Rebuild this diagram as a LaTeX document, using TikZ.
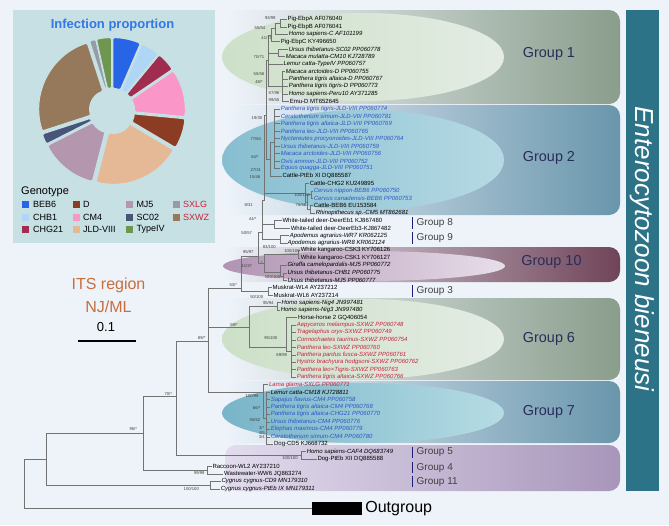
\documentclass[tikz,border=0pt]{standalone}
\usepackage{fontspec}
\setmainfont{Liberation Sans}
\usetikzlibrary{positioning}
\definecolor{bgc}{RGB}{238,243,250}
\definecolor{panelc}{RGB}{199,224,228}
\definecolor{treegray}{RGB}{115,115,115}
\definecolor{jldblue}{RGB}{45,85,200}
\definecolor{sxred}{RGB}{200,35,60}
\definecolor{grpnavy}{RGB}{40,45,90}
\definecolor{barnavy}{RGB}{30,30,120}
\definecolor{titlec}{RGB}{45,115,135}
\definecolor{itsc}{RGB}{200,110,60}
\definecolor{inftc}{RGB}{50,120,230}
\definecolor{greenband}{RGB}{138,158,140}
\definecolor{blueband}{RGB}{105,150,172}
\definecolor{plumband}{RGB}{112,68,88}
\definecolor{lilacband}{RGB}{168,150,186}
\definecolor{beb6}{RGB}{40,100,230}
\definecolor{chb1}{RGB}{175,215,245}
\definecolor{chg21}{RGB}{160,45,80}
\definecolor{cmfour}{RGB}{250,150,200}
\definecolor{dgen}{RGB}{140,60,35}
\definecolor{jld}{RGB}{230,185,150}
\definecolor{mj5}{RGB}{180,150,175}
\definecolor{sc02}{RGB}{70,85,120}
\definecolor{sxwz}{RGB}{150,120,90}
\definecolor{sxlg}{RGB}{150,155,165}
\definecolor{typeiv}{RGB}{110,150,80}
\begin{document}
\begin{tikzpicture}[x=1pt, y=-1pt,
  branch/.style={draw=treegray, line width=0.6pt},
  leaf/.style={anchor=west, inner sep=0.6pt, font=\fontsize{6}{7}\selectfont},
  leafi/.style={leaf, font=\fontsize{6}{7}\selectfont\itshape},
  leafb/.style={leafi, text=jldblue},
  leafr/.style={leafi, text=sxred},
  boot/.style={inner sep=0pt, font=\fontsize{4.2}{5}\selectfont, text=black!75},
  biggroup/.style={text=grpnavy, font=\fontsize{14.4}{16}\selectfont},
  smallgroup/.style={anchor=west, inner sep=1pt, text=black!75, font=\fontsize{10}{12}\selectfont},
  gbar/.style={draw=barnavy, line width=1.6pt},
  slice/.style={draw=panelc, line width=1.2pt, rounded corners=1.5pt},
  sq/.style={minimum size=7pt, inner sep=0pt},
  lgt/.style={anchor=west, inner sep=1pt, font=\fontsize{9}{10}\selectfont}]
\useasboundingbox (0,0) rectangle (669,525);
\fill[bgc] (0,0) rectangle (669,525);

% group bands
\shade[left color=bgc, right color=greenband, rounded corners=11pt] (225,10) rectangle (620,104);
\shade[left color=bgc, right color=blueband, rounded corners=11pt] (225,105) rectangle (620,215);
\shade[left color=bgc, right color=plumband, rounded corners=11pt] (225,247) rectangle (620,282);
\shade[left color=bgc, right color=greenband, rounded corners=11pt] (225,298) rectangle (620,380);
\shade[left color=bgc, right color=blueband, rounded corners=11pt] (225,381) rectangle (620,443);
\shade[left color={rgb,255:red,226;green,220;blue,238}, right color=lilacband, rounded corners=11pt] (225,445) rectangle (620,491);
\shade[left color={rgb,255:red,205;green,224;blue,200}, right color={rgb,255:red,228;green,236;blue,228}] (363,57) ellipse [x radius=141, y radius=44];
\shade[left color={rgb,255:red,135;green,190;blue,208}, right color={rgb,255:red,182;green,218;blue,228}] (363,160) ellipse [x radius=141, y radius=50];
\shade[left color={rgb,255:red,176;green,148;blue,178}, right color={rgb,255:red,232;green,222;blue,234}] (364,266) ellipse [x radius=141, y radius=15];
\shade[left color={rgb,255:red,205;green,224;blue,200}, right color={rgb,255:red,228;green,236;blue,228}] (363,339) ellipse [x radius=141, y radius=40];
\shade[left color={rgb,255:red,120;green,180;blue,200}, right color={rgb,255:red,182;green,220;blue,228}] (363,413) ellipse [x radius=141, y radius=30];

% species title
\fill[titlec] (626,10) rectangle (659,491);
\node[rotate=-90, text=white, font=\fontsize{26}{30}\selectfont\itshape] (title) at (642.5,249) {Enterocytozoon bieneusi};

\node[biggroup] (grp1) at (549,54) {Group 1};
\node[biggroup] (grp2) at (549,158) {Group 2};
\node[biggroup] (grp10) at (551.5,262) {Group 10};
\node[biggroup] (grp6) at (549,339) {Group 6};
\node[biggroup] (grp7) at (549,411.7) {Group 7};
\node[smallgroup] (grp8) at (415.5,223) {Group 8};
\node[smallgroup] (grp9) at (415.5,238) {Group 9};
\node[smallgroup] (grp3) at (415.5,291) {Group 3};
\node[smallgroup] (grp5) at (415.5,452.3) {Group 5};
\node[smallgroup] (grp4) at (415.5,467.7) {Group 4};
\node[smallgroup] (grp11) at (415.5,481.7) {Group 11};
\draw[gbar] ([xshift=-3pt]grp8.north west) -- ([xshift=-3pt]grp8.south west);
\draw[gbar] ([xshift=-3pt]grp9.north west) -- ([xshift=-3pt]grp9.south west);
\draw[gbar] ([xshift=-3pt]grp3.north west) -- ([xshift=-3pt]grp3.south west);
\draw[gbar] ([xshift=-3pt]grp5.north west) -- ([xshift=-3pt]grp5.south west);
\draw[gbar] ([xshift=-3pt]grp4.north west) -- ([xshift=-3pt]grp4.south west);
\draw[gbar] ([xshift=-3pt]grp11.north west) -- ([xshift=-3pt]grp11.south west);

% pie panel
\fill[panelc] (13,10) rectangle (215,243);
\node[text=inftc, font=\fontsize{13}{15}\selectfont\bfseries] (inftitle) at (112.5,25) {Infection proportion};
\begin{scope}[shift={(112,111)}]
  \fill[beb6, slice, shift={(-78.3:3.5)}] (-90:19) -- (-90:70) arc[start angle=-90, end angle=-66.6, radius=70] -- (-66.6:19) arc[start angle=-66.6, end angle=-90, radius=19] -- cycle;
  \fill[chb1, slice, shift={(-58.5:3.5)}] (-66.6:19) -- (-66.6:70) arc[start angle=-66.6, end angle=-50.4, radius=70] -- (-50.4:19) arc[start angle=-50.4, end angle=-66.6, radius=19] -- cycle;
  \fill[chg21, slice, shift={(-42.3:3.5)}] (-50.4:19) -- (-50.4:70) arc[start angle=-50.4, end angle=-34.2, radius=70] -- (-34.2:19) arc[start angle=-34.2, end angle=-50.4, radius=19] -- cycle;
  \fill[cmfour, slice, shift={(-14.4:3.5)}] (-34.2:19) -- (-34.2:70) arc[start angle=-34.2, end angle=5.4, radius=70] -- (5.4:19) arc[start angle=5.4, end angle=-34.2, radius=19] -- cycle;
  \fill[dgen, slice, shift={(18:3.5)}] (5.4:19) -- (5.4:70) arc[start angle=5.4, end angle=30.6, radius=70] -- (30.6:19) arc[start angle=30.6, end angle=5.4, radius=19] -- cycle;
  \fill[jld, slice, shift={(67.5:3.5)}] (30.6:19) -- (30.6:70) arc[start angle=30.6, end angle=104.4, radius=70] -- (104.4:19) arc[start angle=104.4, end angle=30.6, radius=19] -- cycle;
  \fill[mj5, slice, shift={(128.7:3.5)}] (104.4:19) -- (104.4:70) arc[start angle=104.4, end angle=153, radius=70] -- (153:19) arc[start angle=153, end angle=104.4, radius=19] -- cycle;
  \fill[sc02, slice, shift={(157.5:3.5)}] (153:19) -- (153:70) arc[start angle=153, end angle=162, radius=70] -- (162:19) arc[start angle=162, end angle=153, radius=19] -- cycle;
  \fill[sxwz, slice, shift={(207:3.5)}] (162:19) -- (162:70) arc[start angle=162, end angle=252, radius=70] -- (252:19) arc[start angle=252, end angle=162, radius=19] -- cycle;
  \fill[sxlg, slice, shift={(254.7:3.5)}] (252:19) -- (252:70) arc[start angle=252, end angle=257.4, radius=70] -- (257.4:19) arc[start angle=257.4, end angle=252, radius=19] -- cycle;
  \fill[typeiv, slice, shift={(263.7:3.5)}] (257.4:19) -- (257.4:70) arc[start angle=257.4, end angle=270, radius=70] -- (270:19) arc[start angle=270, end angle=257.4, radius=19] -- cycle;
\end{scope}
\node[anchor=west, inner sep=1pt, font=\fontsize{11}{12}\selectfont] (gtype) at (20,191.5) {Genotype};
\node[sq, fill=beb6] (kbeb6) at (25,204) {};
\node[lgt] (tbeb6) at (32,204) {BEB6};
\node[sq, fill=chb1] (kchb1) at (25,217) {};
\node[lgt] (tchb1) at (32,217) {CHB1};
\node[sq, fill=chg21] (kchg21) at (25,229.5) {};
\node[lgt] (tchg21) at (32,229.5) {CHG21};
\node[sq, fill=dgen] (kd) at (76,204) {};
\node[lgt] (td) at (82,204) {D};
\node[sq, fill=cmfour] (kcm4) at (76,217) {};
\node[lgt] (tcm4) at (82,217) {CM4};
\node[sq, fill=jld] (kjld) at (76,229.5) {};
\node[lgt] (tjld) at (82,229.5) {JLD-VIII};
\node[sq, fill=mj5] (kmj5) at (129.3,204) {};
\node[lgt] (tmj5) at (135.3,204) {MJ5};
\node[sq, fill=sc02] (ksc02) at (129.3,217) {};
\node[lgt] (tsc02) at (135.3,217) {SC02};
\node[sq, fill=typeiv] (ktiv) at (129.3,229.5) {};
\node[lgt] (ttiv) at (135.3,229.5) {TypeIV};
\node[sq, fill=sxlg] (ksxlg) at (176.7,204) {};
\node[lgt, text=sxred] (tsxlg) at (182,204) {SXLG};
\node[sq, fill=sxwz] (ksxwz) at (176.7,217) {};
\node[lgt, text=sxred] (tsxwz) at (182,217) {SXWZ};

% scale
\node[text=itsc, font=\fontsize{16}{18}\selectfont] (its) at (108.5,285) {ITS region};
\node[text=itsc, font=\fontsize{16}{18}\selectfont] (njml) at (108.5,307) {NJ/ML};
\node[font=\fontsize{13}{15}\selectfont] (scl) at (106,327.5) {0.1};
\coordinate (sbl) at (78,341);
\coordinate (sbr) at (136,341);
\draw[line width=1.4pt] (sbl) -- (sbr);

% leaves
\node[leaf] (l1) at (286.7,19.3) {Pig-EbpA AF076040};
\node[leaf] (l2) at (286.7,26.8) {Pig-EbpB AF076041};
\node[leafi] (l3) at (288,34.2) {Homo sapiens-C AF101199};
\node[leaf] (l4) at (280,41.7) {Pig-EbpC KY496650};
\node[leafi] (l5) at (288,49.1) {Ursus thibetanus-SC02 PP060778};
\node[leafi] (l6) at (285,56.6) {Macaca mulatta-CM10 KJ728789};
\node[leafi] (l7) at (282.7,64) {Lemur catta-TypeIV PP060757};
\node[leafi] (l8) at (285,71.5) {Macaca arctoides-D PP060755};
\node[leafi] (l9) at (288,78.9) {Panthera tigris altaica-D PP060767};
\node[leafi] (l10) at (288,86.4) {Panthera tigris tigris-D PP060773};
\node[leafi] (l11) at (288,93.9) {Homo sapiens-Peru10 AY371285};
\node[leaf] (l12) at (289,101.3) {Emu-D MT652645};
\node[leafb] (l13) at (280,108.8) {Panthera tigris tigris-JLD-VIII PP060774};
\node[leafb] (l14) at (280,116.2) {Ceratotherium simum-JLD-VIII PP060781};
\node[leafb] (l15) at (280,123.7) {Panthera tigris altaica-JLD-VIII PP060769};
\node[leafb] (l16) at (280,131.1) {Panthera leo-JLD-VIII PP060765};
\node[leafb] (l17) at (280,138.6) {Nyctereutes procyonoides-JLD-VIII PP060764};
\node[leafb] (l18) at (280,146) {Ursus thibetanus-JLD-VIII PP060759};
\node[leafb] (l19) at (280,153.5) {Macaca arctoides-JLD-VIII PP060756};
\node[leafb] (l20) at (280,160.9) {Ovis ammon-JLD-VIII PP060752};
\node[leafb] (l21) at (280,168.4) {Equus quagga-JLD-VIII PP060751};
\node[leaf] (l22) at (281.7,175.9) {Cattle-PtEb XI DQ885587};
\node[leaf] (l23) at (309,183.3) {Cattle-CHG2 KU249895};
\node[leafb] (l24) at (313,190.8) {Cervus nippon-BEB6 PP060750};
\node[leafb] (l25) at (313,198.2) {Cervus canadensis-BEB6 PP060753};
\node[leaf] (l26) at (313,205.7) {Cattle-BEB6 EU153584};
\node[leafi] (l27) at (315,213.1) {Rhinopithecus sp.-CM5 MT862681};
\node[leaf] (l28) at (281.7,220.6) {White-tailed deer-DeerEb1 KJ867480};
\node[leaf] (l29) at (290,228) {White-tailed deer-DeerEb3-KJ867482};
\node[leafi] (l30) at (289,235.5) {Apodemus agrarius-WR7 KR062125};
\node[leafi] (l31) at (286.7,242.9) {Apodemus agrarius-WR8 KR062124};
\node[leaf] (l32) at (300,250.4) {White kangaroo-CSK3 KY706126};
\node[leaf] (l33) at (300,257.8) {White kangaroo-CSK1 KY706127};
\node[leafi] (l34) at (286.7,265.3) {Giraffa camelopardalis-MJ5 PP060772};
\node[leafi] (l35) at (286.7,272.8) {Ursus thibetanus-CHB1 PP060775};
\node[leafi] (l36) at (286.7,280.2) {Ursus thibetanus-MJ5 PP060777};
\node[leaf] (l37) at (271.7,287.7) {Muskrat-WL4 AY237212};
\node[leaf] (l38) at (272.7,295.1) {Muskrat-WL6 AY237214};
\node[leafi] (l39) at (280.7,302.6) {Homo sapiens-Nig4 JN997481};
\node[leafi] (l40) at (280,310) {Homo sapiens-Nig3 JN997480};
\node[leaf] (l41) at (297.3,317.5) {Horse-horse 2 GQ406054};
\node[leafr] (l42) at (296,324.9) {Aepyceros melampus-SXWZ PP060748};
\node[leafr] (l43) at (296,332.4) {Tragelaphus oryx-SXWZ PP060749};
\node[leafr] (l44) at (296,339.8) {Connochaetes taurinus-SXWZ PP060754};
\node[leafr] (l45) at (296,347.3) {Panthera leo-SXWZ PP060760};
\node[leafr] (l46) at (296,354.8) {Panthera pardus fusca-SXWZ PP060761};
\node[leafr] (l47) at (296,362.2) {Hystrix brachyura hodgsoni-SXWZ PP060762};
\node[leafr] (l48) at (296,369.7) {Panthera leo×Tigris-SXWZ PP060763};
\node[leafr] (l49) at (296,377.1) {Panthera tigris altaica-SXWZ PP060766};
\node[leafr] (l50) at (268.3,384.6) {Lama glama-SXLG PP060771};
\node[leafi] (l51) at (270,392) {Lemur catta-CM18 KJ728811};
\node[leafb] (l52) at (270,399.5) {Sapajus flavius-CM4 PP060758};
\node[leafb] (l53) at (270,406.9) {Panthera tigris altaica-CM4 PP060768};
\node[leafb] (l54) at (270,414.4) {Panthera tigris altaica-CHG21 PP060770};
\node[leafb] (l55) at (270,421.8) {Ursus thibetanus-CM4 PP060776};
\node[leafb] (l56) at (270,429.3) {Elephas maximus-CM4 PP060779};
\node[leafb] (l57) at (270,436.8) {Ceratotherium simum-CM4 PP060780};
\node[leaf] (l58) at (273.3,444.2) {Dog-CD5 KJ668732};
\node[leafi] (l59) at (306,451.7) {Homo sapiens-CAF4 DQ683749};
\node[leaf] (l60) at (316.7,459.1) {Dog-PtEb XII DQ885588};
\node[leaf] (l61) at (211.7,466.6) {Raccoon-WL2 AY237210};
\node[leaf] (l62) at (223.3,474) {Wastewater-WW6 JQ863274};
\node[leafi] (l63) at (220.7,481.5) {Cygnus cygnus-CD9 MN179310};
\node[leafi] (l64) at (220,488.9) {Cygnus cygnus-PtEb IX MN179311};
\node[fill=black, minimum width=50pt, minimum height=13pt, inner sep=0pt] (ogbar) at (337,508.5) {};
\node[right=3pt of ogbar, inner sep=0pt, font=\fontsize{16}{18}\selectfont] (ogtxt) {Outgroup};

% inner nodes
\coordinate (nA) at (280.7,23);
\coordinate (nB) at (275,28.6);
\coordinate (nC) at (271.5,35.2);
\coordinate (nD) at (278.3,52.9);
\coordinate (nE) at (282.7,86.4);
\coordinate (nG1) at (268,60);
\coordinate (nJ) at (274,142);
\coordinate (nG2) at (270,159);
\coordinate (nT1) at (266.5,115);
\coordinate (nK1) at (311,194.5);
\coordinate (nK2) at (310,209.4);
\coordinate (nK0) at (307.5,202);
\coordinate (nK) at (305,193);
\coordinate (nTopB) at (264.5,200);
\coordinate (nWD) at (274.3,224.3);
\coordinate (nAp) at (280,239.2);
\coordinate (nTopA) at (262,232);
\coordinate (nKa) at (298.3,254.1);
\coordinate (nMJ) at (283.3,276.5);
\coordinate (nGi) at (280,272);
\coordinate (nG10) at (264,263);
\coordinate (nQ) at (258.3,256.7);
\coordinate (nMus) at (268,291.4);
\coordinate (nP) at (241.7,288);
\coordinate (nNig) at (277.3,306.3);
\coordinate (nSX) at (291.7,351);
\coordinate (nHS) at (286,347);
\coordinate (n59) at (249.3,327);
\coordinate (nCM) at (266.7,418);
\coordinate (ng7) at (263.3,392.3);
\coordinate (n208) at (208,341);
\coordinate (ng5) at (301.7,455.4);
\coordinate (n176) at (176,396.7);
\coordinate (nrac) at (207,470.3);
\coordinate (n143) at (143,433);
\coordinate (ncyg) at (210,485.2);
\coordinate (n46) at (46,459);
\coordinate (root) at (24,483.5);

% branches
\draw[branch] (nA) |- (l1.west) (nA) |- (l2.west);
\draw[branch] (nB) |- (nA) (nB) |- (l3.west);
\draw[branch] (nC) |- (nB) (nC) |- (l4.west);
\draw[branch] (nD) |- (l5.west) (nD) |- (l6.west);
\draw[branch] (nE) |- (l8.west) (nE) |- (l9.west) (nE) |- (l10.west) (nE) |- (l11.west) (nE) |- (l12.west);
\draw[branch] (nG1) |- (nC) (nG1) |- (nD) (nG1) |- (l7.west) (nG1) |- (nE);
\draw[branch] (nJ) |- (l13.west) (nJ) |- (l14.west) (nJ) |- (l15.west) (nJ) |- (l16.west) (nJ) |- (l17.west) (nJ) |- (l18.west) (nJ) |- (l19.west) (nJ) |- (l20.west) (nJ) |- (l21.west);
\draw[branch] (nG2) |- (nJ) (nG2) |- (l22.west);
\draw[branch] (nT1) |- (nG1) (nT1) |- (nG2);
\draw[branch] (nK1) |- (l24.west) (nK1) |- (l25.west);
\draw[branch] (nK2) |- (l26.west) (nK2) |- (l27.west);
\draw[branch] (nK0) |- (nK1) (nK0) |- (nK2);
\draw[branch] (nK) |- (l23.west) (nK) |- (nK0);
\draw[branch] (nTopB) |- (nT1) (nTopB) |- (nK);
\draw[branch] (nWD) |- (l28.west) (nWD) |- (l29.west);
\draw[branch] (nAp) |- (l30.west) (nAp) |- (l31.west);
\draw[branch] (nTopA) |- (nTopB) (nTopA) |- (nWD) (nTopA) |- (nAp);
\draw[branch] (nKa) |- (l32.west) (nKa) |- (l33.west);
\draw[branch] (nMJ) |- (l35.west) (nMJ) |- (l36.west);
\draw[branch] (nGi) |- (l34.west) (nGi) |- (nMJ);
\draw[branch] (nG10) |- (nKa) (nG10) |- (nGi);
\draw[branch] (nQ) |- (nTopA) (nQ) |- (nG10);
\draw[branch] (nMus) |- (l37.west) (nMus) |- (l38.west);
\draw[branch] (nP) |- (nQ) (nP) |- (nMus);
\draw[branch] (nNig) |- (l39.west) (nNig) |- (l40.west);
\draw[branch] (nSX) |- (l42.west) (nSX) |- (l43.west) (nSX) |- (l44.west) (nSX) |- (l45.west) (nSX) |- (l46.west) (nSX) |- (l47.west) (nSX) |- (l48.west) (nSX) |- (l49.west);
\draw[branch] (nHS) |- (l41.west) (nHS) |- (nSX);
\draw[branch] (n59) |- (nNig) (n59) |- (nHS);
\draw[branch] (nCM) |- (l51.west) (nCM) |- (l52.west) (nCM) |- (l53.west) (nCM) |- (l54.west) (nCM) |- (l55.west) (nCM) |- (l56.west) (nCM) |- (l57.west) (nCM) |- (l58.west);
\draw[branch] (ng7) |- (l50.west) (ng7) |- (nCM);
\draw[branch] (n208) |- (nP) (n208) |- (n59) (n208) |- (ng7);
\draw[branch] (ng5) |- (l59.west) (ng5) |- (l60.west);
\draw[branch] (n176) |- (n208) (n176) |- (ng5);
\draw[branch] (nrac) |- (l61.west) (nrac) |- (l62.west);
\draw[branch] (n143) |- (n176) (n143) |- (nrac);
\draw[branch] (ncyg) |- (l63.west) (ncyg) |- (l64.west);
\draw[branch] (n46) |- (n143) (n46) |- (ncyg);
\draw[branch] (root) |- (n46) (root) |- (ogbar.west);

% support values
\node[boot] (b1) at (270.3,17.7) {93/99};
\node[boot] (b2) at (260,27.7) {55/54};
\node[boot] (b3) at (266.7,38.3) {41/71};
\node[boot] (b4) at (259,56.7) {70/71};
\node[boot] (b5) at (259,74.3) {55/58};
\node[boot] (b6) at (259,81.7) {48/*};
\node[boot] (b7) at (274,92.7) {87/96};
\node[boot] (b8) at (274,100) {99/55};
\node[boot] (b9) at (257,118.3) {19/30};
\node[boot] (b10) at (255.8,139) {77/84};
\node[boot] (b11) at (255,156.7) {64/*};
\node[boot] (b12) at (255.8,170) {27/31};
\node[boot] (b13) at (255,177.3) {15/46};
\node[boot] (b14) at (302,195) {100/100};
\node[boot] (b15) at (301,205) {76/56};
\node[boot] (b16) at (248.7,205) {8/31};
\node[boot] (b17) at (252.7,219.3) {44/*};
\node[boot] (b18) at (246.7,232.7) {50/57};
\node[boot] (b19) at (269.3,246.7) {83/100};
\node[boot] (b20) at (248.3,252.3) {95/97};
\node[boot] (b21) at (292,250.7) {100/100};
\node[boot] (b22) at (246.7,266) {41/37};
\node[boot] (b23) at (261.7,263) {*};
\node[boot] (b24) at (272.5,277) {100/100};
\node[boot] (b25) at (233.3,285) {53/*};
\node[boot] (b26) at (256.7,296.7) {50/100};
\node[boot] (b27) at (268.3,303.3) {95/94};
\node[boot] (b28) at (234,325) {59/*};
\node[boot] (b29) at (270.8,338.3) {95/100};
\node[boot] (b30) at (281.7,355) {89/99};
\node[boot] (b31) at (252,396) {100/99};
\node[boot] (b32) at (256.7,407.7) {66/*};
\node[boot] (b33) at (255,420) {55/52};
\node[boot] (b34) at (261.7,428.3) {3/*};
\node[boot] (b35) at (261.7,432.7) {4/5};
\node[boot] (b36) at (261.7,437) {3/4};
\node[boot] (b37) at (290,458.3) {100/100};
\node[boot] (b38) at (199.3,472.7) {99/99};
\node[boot] (b39) at (191.3,489.3) {100/100};
\node[boot] (b40) at (133.3,429) {95/*};
\node[boot] (b41) at (168.3,394) {70/*};
\node[boot] (b42) at (201.7,338.3) {89/*};
\end{tikzpicture}
\end{document}
